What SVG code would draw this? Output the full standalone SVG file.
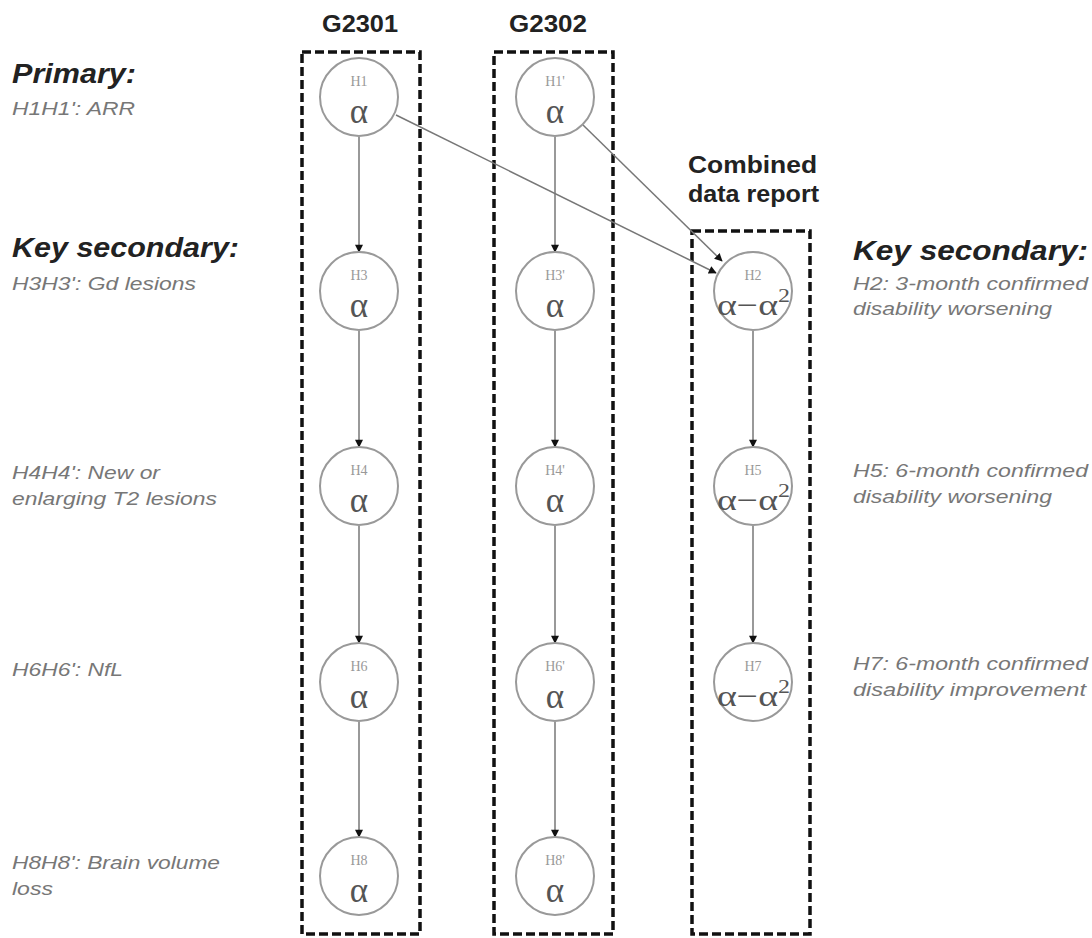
<svg xmlns="http://www.w3.org/2000/svg" width="1092" height="938" viewBox="0 0 1092 938">
<defs>
<marker id="ah" viewBox="0 0 10 10" refX="9" refY="5" markerWidth="9" markerHeight="8" orient="auto" markerUnits="userSpaceOnUse">
<path d="M0,0 L10,5 L0,10 z" fill="#111"/>
</marker>
<style>
.box{fill:none;stroke:#111;stroke-width:3.5;stroke-dasharray:9,4}
.c{fill:#fff;stroke:#999;stroke-width:2}
.hl{font-family:"Liberation Serif",serif;font-size:14px;fill:#999;text-anchor:middle}
.al{font-family:"Liberation Serif",serif;font-size:35px;fill:#555;text-anchor:middle}
.aa{font-family:"Liberation Serif",serif;font-size:30px;fill:#555}
.hd{font-family:"Liberation Sans",Arial,sans-serif;font-size:24px;font-weight:bold;fill:#222}
.ti{font-family:"Liberation Sans",Arial,sans-serif;font-size:27px;font-weight:bold;font-style:italic;fill:#222}
.lb{font-family:"Liberation Sans",Arial,sans-serif;font-size:17.5px;font-style:italic;fill:#777}
.ln{fill:none;stroke:#777;stroke-width:1.5}
</style>
</defs>
<rect width="1092" height="938" fill="#fff"/>
<g id="headers">
<text class="hd" x="322" y="32" textLength="76" lengthAdjust="spacingAndGlyphs">G2301</text>
<text class="hd" x="509" y="32" textLength="78" lengthAdjust="spacingAndGlyphs">G2302</text>
<text class="hd" x="688" y="173" textLength="129" lengthAdjust="spacingAndGlyphs">Combined</text>
<text class="hd" x="688" y="202" textLength="131" lengthAdjust="spacingAndGlyphs">data report</text>
</g>
<g id="boxes">
<rect class="box" x="302" y="52" width="118" height="882"/>
<rect class="box" x="494" y="52" width="119" height="882"/>
<rect class="box" x="692" y="231" width="118" height="703"/>
</g>
<g id="labels-left">
<text class="ti" x="12" y="83" textLength="124" lengthAdjust="spacingAndGlyphs">Primary:</text>
<text class="lb" x="12" y="115" textLength="123" lengthAdjust="spacingAndGlyphs">H1H1': ARR</text>
<text class="ti" x="12" y="257" textLength="227" lengthAdjust="spacingAndGlyphs">Key secondary:</text>
<text class="lb" x="12" y="290" textLength="184" lengthAdjust="spacingAndGlyphs">H3H3': Gd lesions</text>
<text class="lb" x="12" y="479" textLength="148" lengthAdjust="spacingAndGlyphs">H4H4': New or</text>
<text class="lb" x="12" y="505" textLength="205" lengthAdjust="spacingAndGlyphs">enlarging T2 lesions</text>
<text class="lb" x="12" y="676" textLength="111" lengthAdjust="spacingAndGlyphs">H6H6': NfL</text>
<text class="lb" x="12" y="869" textLength="208" lengthAdjust="spacingAndGlyphs">H8H8': Brain volume</text>
<text class="lb" x="12" y="895" textLength="41" lengthAdjust="spacingAndGlyphs">loss</text>
</g>
<g id="labels-right">
<text class="ti" x="853" y="260" textLength="235" lengthAdjust="spacingAndGlyphs">Key secondary:</text>
<text class="lb" x="853" y="290" textLength="235" lengthAdjust="spacingAndGlyphs">H2: 3-month confirmed</text>
<text class="lb" x="853" y="315" textLength="199" lengthAdjust="spacingAndGlyphs">disability worsening</text>
<text class="lb" x="853" y="477" textLength="235" lengthAdjust="spacingAndGlyphs">H5: 6-month confirmed</text>
<text class="lb" x="853" y="503" textLength="199" lengthAdjust="spacingAndGlyphs">disability worsening</text>
<text class="lb" x="853" y="670" textLength="235" lengthAdjust="spacingAndGlyphs">H7: 6-month confirmed</text>
<text class="lb" x="853" y="696" textLength="233" lengthAdjust="spacingAndGlyphs">disability improvement</text>
</g>
<g id="connectors">
<line class="ln" x1="359" y1="137" x2="359" y2="252" marker-end="url(#ah)"/>
<line class="ln" x1="359" y1="331" x2="359" y2="447" marker-end="url(#ah)"/>
<line class="ln" x1="359" y1="526" x2="359" y2="643" marker-end="url(#ah)"/>
<line class="ln" x1="359" y1="722" x2="359" y2="837" marker-end="url(#ah)"/>
<line class="ln" x1="555" y1="137" x2="555" y2="252" marker-end="url(#ah)"/>
<line class="ln" x1="555" y1="331" x2="555" y2="447" marker-end="url(#ah)"/>
<line class="ln" x1="555" y1="526" x2="555" y2="643" marker-end="url(#ah)"/>
<line class="ln" x1="555" y1="722" x2="555" y2="837" marker-end="url(#ah)"/>
<line class="ln" x1="753" y1="331" x2="753" y2="447" marker-end="url(#ah)"/>
<line class="ln" x1="753" y1="526" x2="753" y2="643" marker-end="url(#ah)"/>
<line class="ln" x1="396" y1="115" x2="716" y2="273" marker-end="url(#ah)"/>
<line class="ln" x1="583" y1="125" x2="722" y2="261" marker-end="url(#ah)"/>
</g>
<g id="H1"><circle class="c" cx="359" cy="97" r="39"/><text class="hl" x="359" y="86">H1</text><text class="al" x="359" y="123">α</text></g>
<g id="H3"><circle class="c" cx="359" cy="291" r="39"/><text class="hl" x="359" y="280">H3</text><text class="al" x="359" y="317">α</text></g>
<g id="H4"><circle class="c" cx="359" cy="486" r="39"/><text class="hl" x="359" y="475">H4</text><text class="al" x="359" y="512">α</text></g>
<g id="H6"><circle class="c" cx="359" cy="682" r="39"/><text class="hl" x="359" y="671">H6</text><text class="al" x="359" y="708">α</text></g>
<g id="H8"><circle class="c" cx="359" cy="876" r="39"/><text class="hl" x="359" y="865">H8</text><text class="al" x="359" y="902">α</text></g>
<g id="H1p"><circle class="c" cx="555" cy="97" r="39"/><text class="hl" x="555" y="86">H1'</text><text class="al" x="555" y="123">α</text></g>
<g id="H3p"><circle class="c" cx="555" cy="291" r="39"/><text class="hl" x="555" y="280">H3'</text><text class="al" x="555" y="317">α</text></g>
<g id="H4p"><circle class="c" cx="555" cy="486" r="39"/><text class="hl" x="555" y="475">H4'</text><text class="al" x="555" y="512">α</text></g>
<g id="H6p"><circle class="c" cx="555" cy="682" r="39"/><text class="hl" x="555" y="671">H6'</text><text class="al" x="555" y="708">α</text></g>
<g id="H8p"><circle class="c" cx="555" cy="876" r="39"/><text class="hl" x="555" y="865">H8'</text><text class="al" x="555" y="902">α</text></g>
<g id="H2"><circle class="c" cx="753" cy="291" r="39"/><text class="hl" x="753" y="280">H2</text><text class="aa" x="717" y="315" textLength="73" lengthAdjust="spacingAndGlyphs">α−α<tspan font-size="19" dy="-13">2</tspan></text></g>
<g id="H5"><circle class="c" cx="753" cy="486" r="39"/><text class="hl" x="753" y="475">H5</text><text class="aa" x="717" y="510" textLength="73" lengthAdjust="spacingAndGlyphs">α−α<tspan font-size="19" dy="-13">2</tspan></text></g>
<g id="H7"><circle class="c" cx="753" cy="682" r="39"/><text class="hl" x="753" y="671">H7</text><text class="aa" x="717" y="706" textLength="73" lengthAdjust="spacingAndGlyphs">α−α<tspan font-size="19" dy="-13">2</tspan></text></g>
</svg>
